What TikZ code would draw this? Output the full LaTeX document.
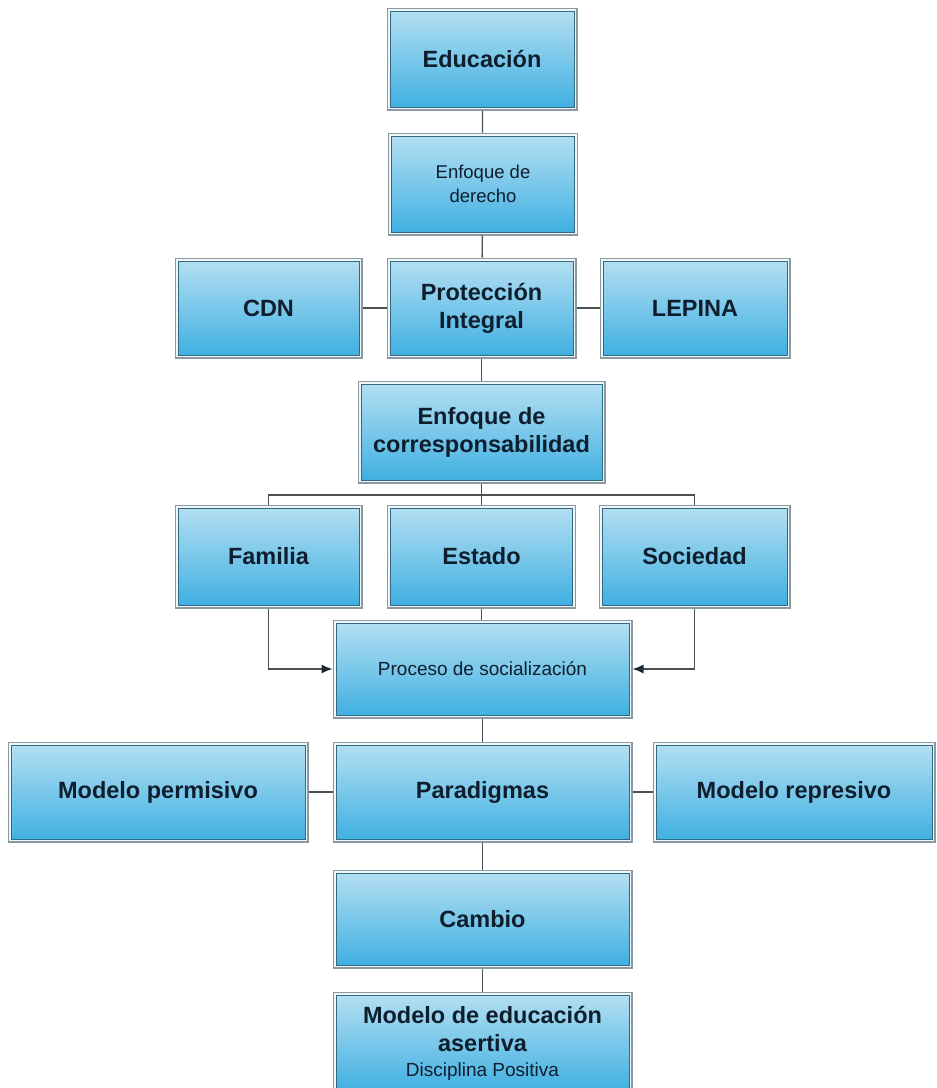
\documentclass[tikz,border=0pt]{standalone}
\usepackage{fontspec}
\setmainfont{Liberation Sans}
\usetikzlibrary{arrows.meta}
\definecolor{txt}{HTML}{0F1E2D}
\definecolor{inb}{HTML}{2F6A80}
\definecolor{outc}{HTML}{8A9AA2}
\definecolor{gapc}{HTML}{F2F6F8}
\definecolor{topc}{HTML}{B3DFF2}
\definecolor{botc}{HTML}{40B0E2}
\definecolor{linec}{HTML}{4A5054}
\definecolor{tipc}{HTML}{1E2A33}
\tikzset{
  bx/.style={rectangle, inner sep=2pt, outer sep=3.5pt, align=center, text=txt,
    draw=inb, line width=0.9pt, top color=topc, bottom color=botc,
    preaction={draw=outc, line width=7pt},
    preaction={draw=gapc, line width=4.8pt},
    font=\bfseries\fontsize{23.5}{28}\selectfont},
  small/.style={font=\fontsize{18.5}{24}\selectfont},
  conn/.style={draw=linec, line width=1.3pt},
  arr/.style={conn, -{Latex[length=11pt,width=9pt,color=tipc]}},
}
\begin{document}
\begin{tikzpicture}[x=1pt,y=-1pt]
\path[use as bounding box, fill=white] (0,0) rectangle (937,1088);
\node[bx, minimum width=184pt, minimum height=96pt] (edu) at (482,59) {Educación};
\node[bx, small, minimum width=183pt, minimum height=96pt] (enf) at (483,184) {Enfoque de\\derecho};
\node[bx, minimum width=183pt, minimum height=94pt] (prot) at (481.5,308) {Protección\\Integral};
\node[bx, minimum width=181pt, minimum height=94pt] (cdn) at (268.5,308) {CDN};
\node[bx, minimum width=184pt, minimum height=94pt] (lep) at (695,308) {LEPINA};
\node[bx, minimum width=241pt, minimum height=96pt] (corr) at (481.5,432) {Enfoque de\\corresponsabilidad};
\node[bx, minimum width=181pt, minimum height=97pt] (fam) at (268.5,556.5) {Familia};
\node[bx, minimum width=182pt, minimum height=97pt] (est) at (481.5,556.5) {Estado};
\node[bx, minimum width=185pt, minimum height=97pt] (soc) at (694.5,556.5) {Sociedad};
\node[bx, font=\fontsize{19}{24}\selectfont, minimum width=293pt, minimum height=92pt] (proc) at (482.5,669) {Proceso de socialización};
\node[bx, minimum width=293pt, minimum height=94pt] (par) at (482.5,792) {Paradigmas};
\node[bx, minimum width=294pt, minimum height=94pt] (perm) at (158,792) {Modelo permisivo};
\node[bx, minimum width=276pt, minimum height=94pt] (rep) at (794,792) {Modelo represivo};
\node[bx, minimum width=293pt, minimum height=92pt] (cam) at (482.5,919) {Cambio};
\node[bx, minimum width=293pt, minimum height=96pt] (mod) at (482.5,1043) {Modelo de educación\\asertiva\\[-3pt]{\mdseries\fontsize{19}{24}\selectfont Disciplina Positiva}};
% connectors
\draw[conn] (edu) -- (enf);
\draw[conn] (enf) -- (prot);
\draw[conn] (cdn) -- (prot);
\draw[conn] (prot) -- (lep);
\draw[conn] (prot) -- (corr);
\coordinate (bar) at (481.5,495);
\draw[conn] (corr.south) -- (est.north);
\draw[conn] (fam.north) |- (bar) -| (soc.north);
\draw[conn] (est.south) -- (est.south |- proc.north);
\draw[arr] (fam.south) |- (proc.west);
\draw[arr] (soc.south) |- (proc.east);
\draw[conn] (proc) -- (par);
\draw[conn] (perm) -- (par);
\draw[conn] (par) -- (rep);
\draw[conn] (par) -- (cam);
\draw[conn] (cam) -- (mod);
\end{tikzpicture}
\end{document}
